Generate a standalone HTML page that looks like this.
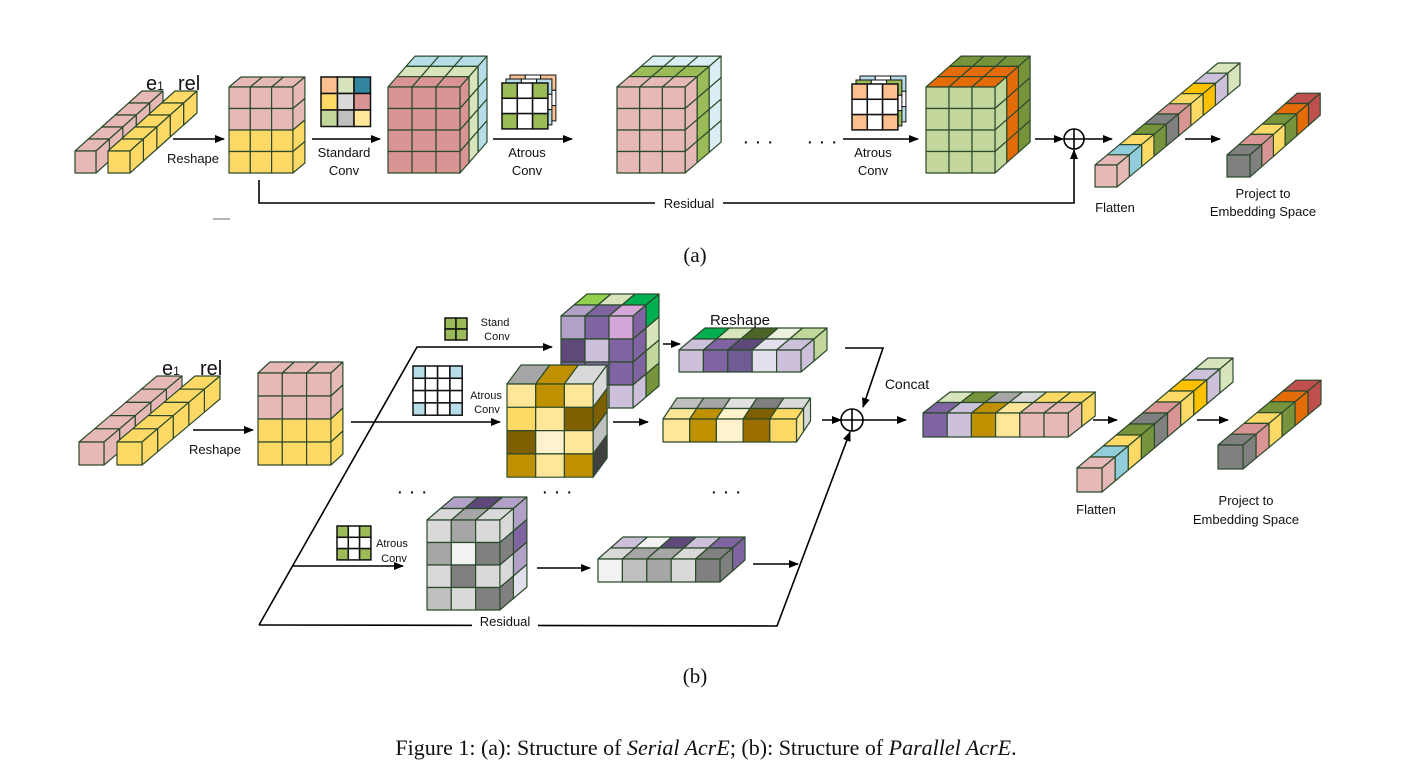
<!DOCTYPE html>
<html><head><meta charset="utf-8"><style>
html,body{margin:0;padding:0;background:#fff;}
svg{display:block;}
text{font-family:"Liberation Sans",sans-serif;fill:#111;}
.serif{font-family:"Liberation Serif",serif;}
</style></head><body>
<svg id="s" width="1414" height="769" viewBox="0 0 1414 769" xmlns="http://www.w3.org/2000/svg">
<defs><marker id="ah" markerWidth="10" markerHeight="8" refX="9" refY="4" orient="auto" markerUnits="userSpaceOnUse"><path d="M0,0 L10,4 L0,8 z" fill="#000"/></marker></defs>
<g id="g"></g>
<g fill="none" stroke="#000" stroke-width="1.6">
<line x1="173" y1="139" x2="224" y2="139" marker-end="url(#ah)"/>
<line x1="312" y1="139" x2="380" y2="139" marker-end="url(#ah)"/>
<line x1="493" y1="139" x2="572" y2="139" marker-end="url(#ah)"/>
<line x1="843" y1="139" x2="918" y2="139" marker-end="url(#ah)"/>
<line x1="1035" y1="139" x2="1063" y2="139" marker-end="url(#ah)"/>
<circle cx="1074" cy="139" r="10"/>
<line x1="1064" y1="139" x2="1084" y2="139"/><line x1="1074" y1="129" x2="1074" y2="149"/>
<line x1="1084" y1="139" x2="1112" y2="139" marker-end="url(#ah)"/>
<line x1="1185" y1="139" x2="1220" y2="139" marker-end="url(#ah)"/>
<polyline points="259,180 259,203 1074,203 1074,150" marker-end="url(#ah)"/>
<line x1="193" y1="430" x2="253" y2="430" marker-end="url(#ah)"/>
<polyline points="259,625 417,347 552,347" marker-end="url(#ah)"/>
<line x1="351" y1="422" x2="500" y2="422" marker-end="url(#ah)"/>
<line x1="293" y1="566" x2="403" y2="566" marker-end="url(#ah)"/>
<polyline points="259,625 777,626 850,432" marker-end="url(#ah)"/>
<line x1="663" y1="344" x2="680" y2="344" marker-end="url(#ah)"/>
<line x1="613" y1="422" x2="648" y2="422" marker-end="url(#ah)"/>
<line x1="537" y1="568" x2="590" y2="568" marker-end="url(#ah)"/>
<line x1="753" y1="564" x2="798" y2="564" marker-end="url(#ah)"/>
<line x1="822" y1="420" x2="841" y2="420" marker-end="url(#ah)"/>
<polyline points="845,348 883,348 863,407" marker-end="url(#ah)"/>
<circle cx="852" cy="420" r="11"/>
<line x1="841" y1="420" x2="863" y2="420"/><line x1="852" y1="409" x2="852" y2="431"/>
<line x1="863" y1="420" x2="906" y2="420" marker-end="url(#ah)"/>
<line x1="1093" y1="420" x2="1117" y2="420" marker-end="url(#ah)"/>
<line x1="1197" y1="420" x2="1228" y2="420" marker-end="url(#ah)"/>
</g>
<line x1="213" y1="219" x2="230" y2="219" stroke="#999" stroke-width="1.5"/>
<rect x="655" y="196" width="68" height="14" fill="#fff"/>
<rect x="472" y="619" width="66" height="14" fill="#fff"/>
<g font-size="13" text-anchor="middle">
<text x="193" y="163">Reshape</text>
<text x="344" y="157">Standard</text><text x="344" y="175">Conv</text>
<text x="527" y="157">Atrous</text><text x="527" y="175">Conv</text>
<text x="873" y="157">Atrous</text><text x="873" y="175">Conv</text>
<text x="689" y="208">Residual</text>
<text x="1115" y="212">Flatten</text>
<text x="1263" y="198">Project to</text><text x="1263" y="216">Embedding Space</text>
<text x="215" y="454">Reshape</text>
<text x="505" y="626">Residual</text>
<text x="1096" y="514">Flatten</text>
<text x="1246" y="505">Project to</text><text x="1246" y="524">Embedding Space</text>
<text x="907" y="389" font-size="14">Concat</text>
<text x="740" y="325" font-size="15">Reshape</text>
</g>
<g font-size="11" text-anchor="middle">
<text x="495" y="326">Stand</text><text x="497" y="340">Conv</text>
<text x="486" y="399">Atrous</text><text x="487" y="413">Conv</text>
<text x="392" y="547">Atrous</text><text x="394" y="562">Conv</text>
</g>
<g font-size="20">
<text x="146" y="90">e<tspan font-size="12">1</tspan></text><text x="178" y="90">rel</text>
<text x="162" y="375">e<tspan font-size="12">1</tspan></text><text x="200" y="375">rel</text>
</g>
<g font-size="20" text-anchor="middle">
<text x="758" y="148">· · ·</text><text x="822" y="148">· · ·</text>
<text x="412" y="498">· · ·</text><text x="557" y="498">· · ·</text><text x="726" y="498">· · ·</text>
</g>
<g class="serif" text-anchor="middle" font-size="21">
<text class="serif" x="695" y="262">(a)</text>
<text class="serif" x="695" y="683">(b)</text>
<text class="serif" x="706" y="755" font-size="22">Figure 1: (a): Structure of <tspan font-style="italic">Serial AcrE</tspan>; (b): Structure of <tspan font-style="italic">Parallel AcrE</tspan>.</text>
</g>
</svg>
<script>
var g=document.getElementById('g'),NS='http://www.w3.org/2000/svg',SC='#2b4a2b';
function poly(pts,f,sw){var p=document.createElementNS(NS,'polygon');p.setAttribute('points',pts.map(function(a){return a[0].toFixed(1)+','+a[1].toFixed(1)}).join(' '));p.setAttribute('fill',f);p.setAttribute('stroke',SC);p.setAttribute('stroke-width',sw||1.2);p.setAttribute('stroke-linejoin','round');g.appendChild(p);}
function pick(c,a,b){return typeof c==='string'?c:(Array.isArray(c[0])?c[a][b]:c[a]);}
function box(x,y,cols,rows,cw,ch,L,dx,dy,front,top,side){
 var W=cols*cw;
 for(var k=L-1;k>=0;k--){
  for(var c=0;c<cols;c++){poly([[x+c*cw+k*dx,y+k*dy],[x+(c+1)*cw+k*dx,y+k*dy],[x+(c+1)*cw+(k+1)*dx,y+(k+1)*dy],[x+c*cw+(k+1)*dx,y+(k+1)*dy]],pick(top,k,c));}
  for(var r=0;r<rows;r++){poly([[x+W+k*dx,y+r*ch+k*dy],[x+W+(k+1)*dx,y+r*ch+(k+1)*dy],[x+W+(k+1)*dx,y+(r+1)*ch+(k+1)*dy],[x+W+k*dx,y+(r+1)*ch+k*dy]],pick(side,k,r));}
 }
 for(var r=0;r<rows;r++)for(var c=0;c<cols;c++)poly([[x+c*cw,y+r*ch],[x+(c+1)*cw,y+r*ch],[x+(c+1)*cw,y+(r+1)*ch],[x+c*cw,y+(r+1)*ch]],pick(front,r,c));
}
function grid(x,y,n,s,cols,sub){for(var r=0;r<n;r++)for(var c=0;c<n;c++){var p=document.createElementNS(NS,'rect');p.setAttribute('x',x+c*s);p.setAttribute('y',y+r*s);p.setAttribute('width',s);p.setAttribute('height',s);p.setAttribute('fill',cols[r][c]);p.setAttribute('stroke','#111');p.setAttribute('stroke-width',sub||1.5);g.appendChild(p);}}
function rep(c,n){var a=[];for(var i=0;i<n;i++)a.push(c);return a;}
var PK='#e6b9b8',YE='#ffd966',PD='#d99594',LG='#c3d69b',GR='#9bbb59',LB='#b7dde8',DG='#77933c',OR='#e36c09',GL='#d7e4bc',BL2='#dbeef3';
box(75,151,1,1,21,22,5,13.4,-12,PK,PK,PK);
box(108,151,1,1,22,22,5,13.4,-12,YE,YE,YE);
box(229,87,3,4,21.3,21.5,1,12,-10,[[PK,PK,PK],[PK,PK,PK],[YE,YE,YE],[YE,YE,YE]],PK,[[PK,PK,YE,YE]]);
grid(321,77,3,16.5,[['#fac090','#d7e4bc','#31849b'],['#ffd966','#d9d9d9','#d99594'],['#c3d69b','#bfbfbf','#ffe699']]);
box(388,87,3,4,24,21.5,3,9,-10.3,PD,[rep(PD,3),rep(GL,3),rep(LB,3)],[rep(PD,4),rep(GL,4),rep(LB,4)]);
var W='#fff';
grid(510,75,3,15.3,[['#fac090',W,'#fac090'],[W,W,W],['#fac090',W,'#fac090']],1);
grid(506,79,3,15.3,[[LB,W,LB],[W,W,W],[LB,W,LB]],1);
grid(502,83,3,15.3,[[GR,W,GR],[W,W,W],[GR,W,GR]]);
box(617,87,3,4,22.7,21.5,3,12,-10.3,PK,[rep(PK,3),rep(GR,3),rep(BL2,3)],[rep(PK,4),rep(GR,4),rep(BL2,4)]);
grid(860,76,3,15.3,[[LB,W,LB],[W,W,W],[LB,W,LB]],1);
grid(856,80,3,15.3,[[GR,W,GR],[W,W,W],[GR,W,GR]],1);
grid(852,84,3,15.3,[['#fac090',W,'#fac090'],[W,W,W],['#fac090',W,'#fac090']]);
box(926,87,3,4,23,21.5,3,11.7,-10.3,LG,[rep(OR,3),rep(OR,3),rep(DG,3)],[rep(LG,4),rep(OR,4),rep(DG,4)]);
var FL=[PK,'#92cddc',YE,DG,'#808080',PD,YE,'#ffc000','#ccc0da','#d7e4bc'];
box(1095,165,1,1,22,22,10,12.3,-10.2,PK,FL,FL);
var PJ=['#808080',PD,YE,DG,OR,'#c0504d'];
box(1227,155,1,1,23,22,6,11.7,-10.3,'#808080',PJ,PJ);
box(79,442,1,1,25,23,5,15.6,-13.2,PK,PK,PK);
box(117,442,1,1,25,23,5,15.6,-13.2,YE,YE,YE);
box(258,373,3,4,24.3,23,1,12,-11,[[PK,PK,PK],[PK,PK,PK],[YE,YE,YE],[YE,YE,YE]],PK,[[PK,PK,YE,YE]]);
grid(445,318,2,11,[[GR,GR],[GR,GR]]);
grid(413,366,4,12.3,[[LB,W,W,LB],[W,W,W,W],[W,W,W,W],[LB,W,W,LB]]);
grid(337,526,3,11.3,[[GR,W,GR],[W,W,W],[GR,W,GR]]);
var PU='#8064a2',LV='#ccc0da',DP='#5f497a',MP='#b2a1c7';
box(561,316,3,4,24,23,2,13,-11,[[MP,PU,'#d5a6d8'],[DP,LV,PU],[PU,PU,PU],[LV,LV,LV]],[[MP,PU,'#d5a6d8'],['#92d050','#d7e4bc','#00b050']],[[PU,PU,PU,LV],['#00b050','#d7e4bc',LG,DG]]);
var Y1='#ffe699',GD='#bf9000',DB='#7f6000',CR='#fff2cc';
box(507,384,3,4,28.7,23.3,1,14,-19,[[Y1,GD,Y1],[YE,Y1,DB],[DB,CR,Y1],[GD,Y1,GD]],[['#a6a6a6',GD,'#d9d9d9']],[['#d9d9d9',DB,'#bfbfbf','#404040']]);
box(679,350,5,1,24.4,22,2,13,-11,[[LV,PU,'#705c94','#e4dfec',LV]],[[LV,PU,DP,'#e4dfec',LV],['#00b050','#d7e4bc','#4f6228','#ebf1de',LG]],[[LV],[LG]]);
box(663,419,5,1,26.7,23,2,7,-10.5,[[Y1,GD,CR,'#9c7000',YE]],[[Y1,GD,CR,DB,YE],['#bfbfbf','#a6a6a6','#e0e0e0','#808080','#d9d9d9']],[[Y1],['#d9d9d9']]);
var G1='#d9d9d9',G2='#a6a6a6',G3='#808080';
box(427,520,3,4,24.3,22.5,2,13.5,-11.5,[[G1,G2,G1],[G2,'#f2f2f2',G3],[G1,G3,G1],['#bfbfbf',G1,G3]],[[G1,G2,G1],[MP,DP,MP]],[[G1,G3,G1,G3],[MP,PU,MP,'#e4dfec']]);
box(598,559,5,1,24.4,23,2,12.5,-11,[['#f2f2f2','#bfbfbf',G2,G1,G3]],[[G1,G2,G2,G1,G3],[LV,'#f2f2f2',DP,LV,PU]],[[G3],[PU]]);
box(923,413,6,1,24.2,24,2,13.5,-10.5,[[PU,LV,GD,Y1,PK,PK]],[[PU,LV,GD,Y1,PK,PK],['#d7e4bc',DG,G2,G1,YE,YE]],[[PK],[YE]]);
box(1077,468,1,1,25,24,10,13.1,-11,PK,FL,FL);
box(1218,445,1,1,25,24,6,13,-10.8,'#808080',PJ,PJ);
</script>
</body></html>
